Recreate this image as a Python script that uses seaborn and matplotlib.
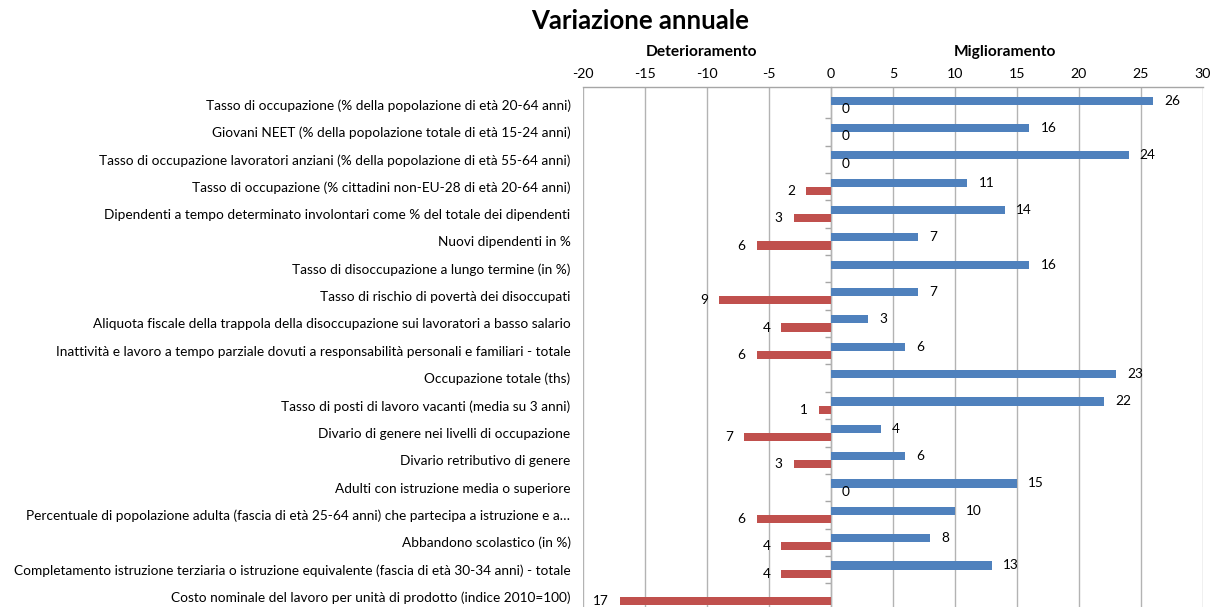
import matplotlib
matplotlib.use("Agg")
import matplotlib.pyplot as plt
import seaborn as sns
import numpy as np
import pandas as pd

categories = [
    "Tasso di occupazione (% della popolazione di età 20-64 anni)",
    "Giovani NEET (% della popolazione totale di età 15-24 anni)",
    "Tasso di occupazione lavoratori anziani (% della popolazione di età 55-64 anni)",
    "Tasso di occupazione (% cittadini non-EU-28 di età 20-64 anni)",
    "Dipendenti a tempo determinato involontari come % del totale dei dipendenti",
    "Nuovi dipendenti in %",
    "Tasso di disoccupazione a lungo termine (in %)",
    "Tasso di rischio di povertà dei disoccupati",
    "Aliquota fiscale della trappola della disoccupazione sui lavoratori a basso salario",
    "Inattività e lavoro a tempo parziale dovuti a responsabilità personali e familiari - totale",
    "Occupazione totale (ths)",
    "Tasso di posti di lavoro vacanti (media su 3 anni)",
    "Divario di genere nei livelli di occupazione",
    "Divario retributivo di genere",
    "Adulti con istruzione media o superiore",
    "Percentuale di popolazione adulta (fascia di età 25-64 anni) che partecipa a istruzione e a…",
    "Abbandono scolastico (in %)",
    "Completamento istruzione terziaria o istruzione equivalente (fascia di età 30-34 anni) - totale",
    "Costo nominale del lavoro per unità di prodotto (indice 2010=100)",
]
miglioramento = [26, 16, 24, 11, 14, 7, 16, 7, 3, 6, 23, 22, 4, 6, 15, 10, 8, 13, np.nan]
deterioramento = [0, 0, 0, 2, 3, 6, np.nan, 9, 4, 6, np.nan, 1, 7, 3, 0, 6, 4, 4, 17]
x_ticks = list(range(-20, 31, 5))

rows = []
for c, m, d in zip(categories, miglioramento, deterioramento):
    rows.append({"cat": c, "serie": "Miglioramento", "val": m})
    rows.append({"cat": c, "serie": "Deterioramento", "val": -d if not np.isnan(d) else np.nan})
df = pd.DataFrame(rows).dropna()

sns.set_theme(style="white")
plt.rcParams["font.family"] = ["Lato", "DejaVu Sans"]
plt.rcParams["text.color"] = "black"
plt.rcParams["xtick.color"] = "black"
plt.rcParams["ytick.color"] = "black"
plt.rcParams["axes.labelcolor"] = "black"

W, H = 1213, 607
fig = plt.figure(figsize=(W / 100, H / 100), dpi=100)
ax = fig.add_axes([583 / W, 0, 620 / W, 520 / H])

sns.barplot(data=df, y="cat", x="val", hue="serie", order=categories,
            hue_order=["Miglioramento", "Deterioramento"],
            palette={"Miglioramento": "#4F81BD", "Deterioramento": "#C0504D"},
            orient="h", width=0.6, dodge=True, legend=False, ax=ax,
            edgecolor="none", saturation=1)

for cont in ax.containers:
    ax.bar_label(cont, fmt=lambda v: f"{abs(v):.0f}", padding=8, fontsize=9.8, color="black")

ax.set_xlim(-20, 30)
ax.set_ylim(18.37, -0.65)
ax.xaxis.tick_top()
ax.set_xticks(x_ticks)
ax.set_xticklabels([str(t) for t in x_ticks])
ax.tick_params(axis="x", length=0, pad=5, labelsize=10.2, labelcolor="black")
ax.tick_params(axis="y", length=0, pad=9, labelsize=9.8, labelcolor="black")
ax.set_xlabel("")
ax.set_ylabel("")
ax.grid(axis="x", color="#b3b3b3", linewidth=1)
ax.set_axisbelow(True)
for s in ["left", "right", "bottom"]:
    ax.spines[s].set_visible(False)
ax.spines["top"].set_color("#a6a6a6")
ax.spines["top"].set_linewidth(1)

sec = ax.secondary_yaxis(0.4)
sec.set_yticks(np.arange(0.5, 18.5, 1.0))
sec.set_yticklabels([])
sec.tick_params(axis="y", length=4, direction="out", color="#a6a6a6", width=1)
sec.spines["left"].set_color("#b3b3b3")
sec.spines["left"].set_linewidth(1)

fig.text(640 / W, 1 - 21 / H, "Variazione annuale", ha="center", va="center",
         fontsize=18.5, fontweight="bold", color="black")
fig.text(702 / W, 1 - 52 / H, "Deterioramento", ha="center", va="center",
         fontsize=11.2, fontweight="bold", color="black")
fig.text(1005 / W, 1 - 52 / H, "Miglioramento", ha="center", va="center",
         fontsize=11.2, fontweight="bold", color="black")

fig.savefig("out.png", dpi=100)
